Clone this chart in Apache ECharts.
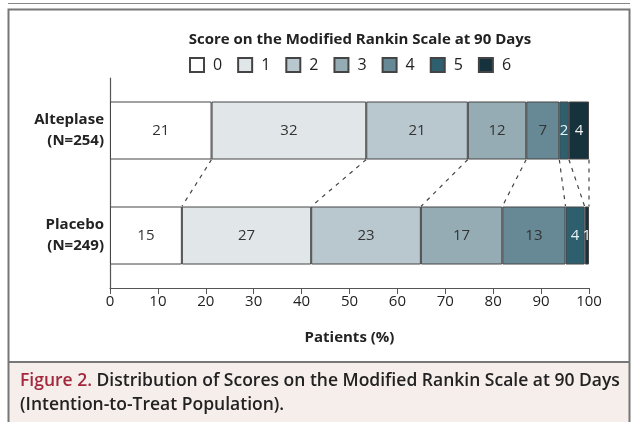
<!DOCTYPE html>
<html>
<head>
<meta charset="utf-8">
<script src="https://cdn.jsdelivr.net/npm/echarts@6/dist/echarts.min.js"></script>
<style>
html,body{margin:0;padding:0;background:#fff;}
#c{width:640px;height:422px;}
</style>
</head>
<body>
<div id="c"></div>
<script>
// ---- data ----
var groups = ['Alteplase', 'Placebo'];
var groupLabels = ['Alteplase\n(N=254)', 'Placebo\n(N=249)'];
var scores = ['0', '1', '2', '3', '4', '5', '6'];
var alteplase = [21.2, 32.3, 21.2, 12.2, 6.9, 2.0, 4.2];
var placebo = [15.0, 27.0, 22.9, 17.0, 13.2, 4.0, 0.9];
var xTicks = [0, 10, 20, 30, 40, 50, 60, 70, 80, 90, 100];
var titleText = 'Score on the Modified Rankin Scale at 90 Days';
var xName = 'Patients (%)';
var captionLabel = 'Figure 2.';
var captionLine1 = ' Distribution of Scores on the Modified Rankin Scale at 90 Days';
var captionLine2 = '(Intention-to-Treat Population).';

// ---- styles ----
var colors = ['#ffffff', '#e1e7e9', '#b9c8ce', '#96acb5', '#668995', '#2e5f6e', '#16323c'];
var labelColors = ['#333', '#333', '#333', '#333', '#333', '#e6f3f5', '#f2f2f2'];
var FONT = '"Open Sans", "Noto Sans", sans-serif';
var BAR_H = 58;

var chart = echarts.init(document.getElementById('c'));

var series = scores.map(function (s, i) {
  return {
    name: s,
    type: 'bar',
    stack: 'total',
    barWidth: BAR_H,
    data: [alteplase[i], placebo[i]],
    itemStyle: { color: colors[i], borderColor: '#444', borderWidth: 1 },
    label: {
      show: true,
      position: 'inside',
      color: labelColors[i],
      fontFamily: FONT,
      fontSize: 15,
      formatter: function (p) { return Math.round(p.value); }
    },
    emphasis: { disabled: true },
    silent: true
  };
});

// cumulative boundaries for connector lines
var connData = [];
var ca = 0, cp = 0;
for (var i = 0; i < scores.length; i++) {
  ca += alteplase[i]; cp += placebo[i];
  connData.push([Math.min(ca, 100), Math.min(cp, 100), 0]);
}

series.push({
  type: 'custom',
  silent: true,
  encode: { x: [0, 1], y: 2 },
  data: connData,
  z: 1,
  renderItem: function (params, api) {
    var a = api.coord([api.value(0), 0]);
    var p = api.coord([api.value(1), 1]);
    return {
      type: 'line',
      shape: { x1: a[0], y1: a[1] + BAR_H / 2, x2: p[0], y2: p[1] - BAR_H / 2 },
      style: { stroke: '#444', lineWidth: 1.2, lineDash: [4, 5] }
    };
  }
});

var option = {
  animation: false,
  backgroundColor: '#fff',
  title: {
    text: titleText,
    left: 355, textAlign: 'center', top: 27,
    textStyle: { fontFamily: FONT, fontSize: 15, fontWeight: 'bold', color: '#222' }
  },
  legend: {
    data: scores,
    left: 184, top: 52,
    itemWidth: 14, itemHeight: 14, itemGap: 15,
    icon: 'rect',
    textStyle: { fontFamily: FONT, fontSize: 16, color: '#222', padding: [0, 0, 0, 4] },
    selectedMode: false
  },
  grid: { left: 110, right: 51, top: 78, bottom: 134, containLabel: false },
  xAxis: {
    type: 'value', min: 0, max: 100, interval: 10,
    name: xName, nameLocation: 'middle', nameGap: 42,
    nameTextStyle: { fontFamily: FONT, fontSize: 15, fontWeight: 'bold', color: '#222' },
    axisLine: { show: true, lineStyle: { color: '#555', width: 1.2 } },
    axisTick: { show: true, length: 6, lineStyle: { color: '#555' } },
    axisLabel: { fontFamily: FONT, fontSize: 15, color: '#222', margin: 6,
      formatter: function (v) { return xTicks.indexOf(v) >= 0 ? String(v) : ''; } },
    splitLine: { show: false }
  },
  yAxis: {
    type: 'category', data: groups, inverse: true,
    axisLine: { show: true, lineStyle: { color: '#555', width: 1.2 } },
    axisTick: { show: false },
    axisLabel: {
      fontFamily: FONT, fontSize: 15, fontWeight: 'bold', color: '#222', margin: 6,
      lineHeight: 21, align: 'right',
      formatter: function (v, idx) { return groupLabels[idx]; }
    }
  },
  series: series,
  graphic: [
    { type: 'line', shape: { x1: 8, y1: 3.5, x2: 630, y2: 3.5 }, style: { stroke: '#888', lineWidth: 1.2 }, silent: true },
    { type: 'rect', shape: { x: 8, y: 362, width: 621, height: 62 }, style: { fill: '#f5eeeb' }, z: -10, silent: true },
    { type: 'polyline', shape: { points: [[8.5, 424], [8.5, 9.5], [629.5, 9.5], [629.5, 424]] }, style: { stroke: '#777', lineWidth: 2, fill: null }, silent: true },
    { type: 'line', shape: { x1: 8, y1: 362, x2: 630, y2: 362 }, style: { stroke: '#777', lineWidth: 2 }, silent: true },
    {
      type: 'text', left: 20, top: 372, silent: true,
      style: {
        text: '{r|' + captionLabel + '}{b|' + captionLine1 + '}\n{b|' + captionLine2 + '}',
        rich: {
          r: { fontFamily: FONT, fontSize: 17.5, fontWeight: 600, fill: '#a3283e', lineHeight: 24 },
          b: { fontFamily: FONT, fontSize: 17.5, fontWeight: 600, fill: '#222', lineHeight: 24 }
        }
      }
    }
  ]
};
chart.setOption(option);
</script>
</body>
</html>
